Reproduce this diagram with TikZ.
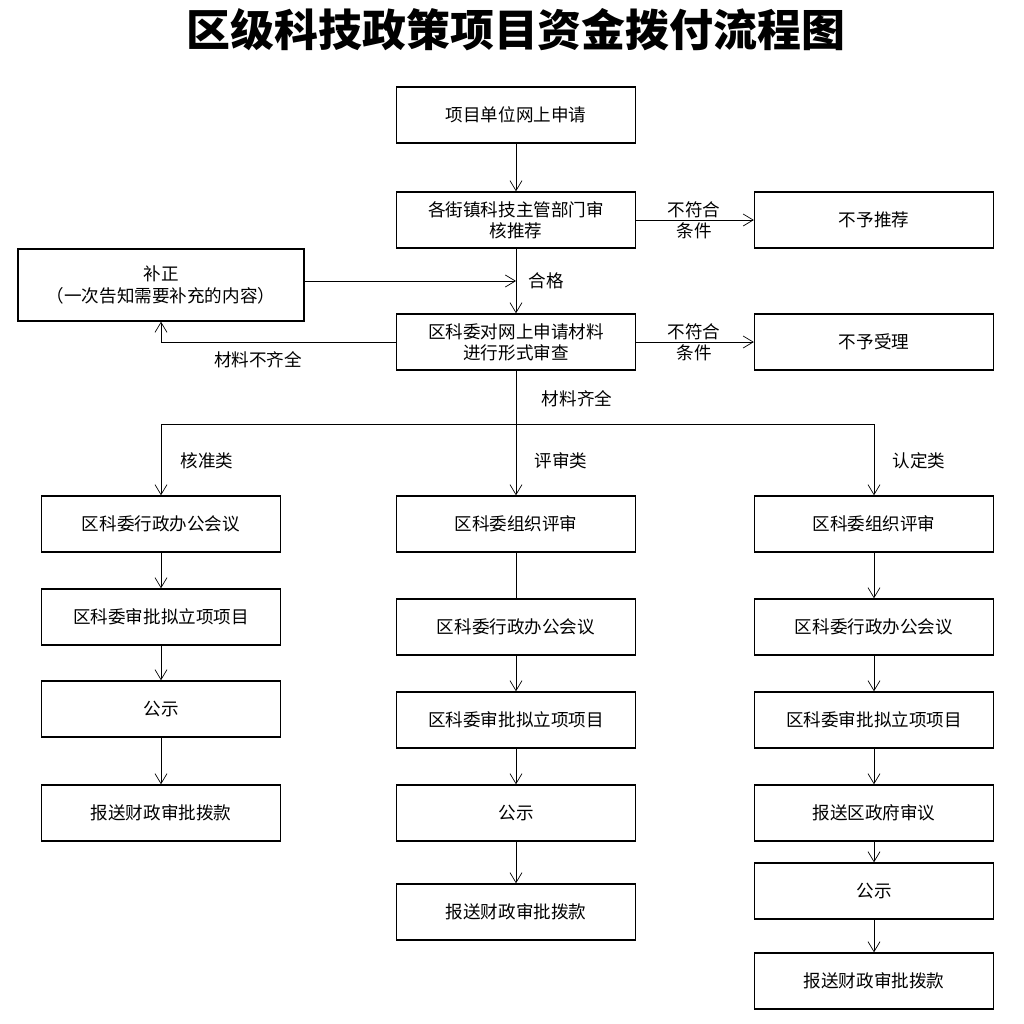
\documentclass[tikz,border=0pt]{standalone}
\usepackage{fontspec}
\setmainfont{Noto Sans CJK SC}
\usetikzlibrary{arrows.meta}
\tikzset{
  box/.style={draw, thick, minimum width=4.78cm, minimum height=1.12cm, align=center, inner sep=1pt, font=\fontsize{10}{12}\selectfont},
  lbl/.style={align=center, font=\fontsize{10}{12}\selectfont},
  arr/.style={-{Straight Barb[length=2mm,width=2.4mm]}},
}
\begin{document}
\begin{tikzpicture}[x=0.02cm, y=-0.02cm, thin]
  \useasboundingbox (0,0) rectangle (1024,1024);
  \node[font=\fontsize{25}{28}\selectfont\bfseries] (title) at (516,30) {区级科技政策项目资金拨付流程图};

  \node[box] (apply) at (516,115) {项目单位网上申请};
  \node[box] (street) at (516,220) {各街镇科技主管部门审\\核推荐};
  \node[box] (noRec) at (874,220) {不予推荐};
  \node[box, minimum width=5.72cm, minimum height=1.44cm] (fix) at (161,285) {补正\\（一次告知需要补充的内容）};
  \node[box] (check) at (516,342) {区科委对网上申请材料\\进行形式审查};
  \node[box] (noAcc) at (874,342) {不予受理};

  % left column
  \node[box] (a1) at (161,524) {区科委行政办公会议};
  \node[box] (a2) at (161,617) {区科委审批拟立项项目};
  \node[box] (a3) at (161,709) {公示};
  \node[box] (a4) at (161,813) {报送财政审批拨款};
  % middle column
  \node[box] (b1) at (516,524) {区科委组织评审};
  \node[box] (b2) at (516,627) {区科委行政办公会议};
  \node[box] (b3) at (516,720) {区科委审批拟立项项目};
  \node[box] (b4) at (516,813) {公示};
  \node[box] (b5) at (516,912) {报送财政审批拨款};
  % right column
  \node[box] (c1) at (874,524) {区科委组织评审};
  \node[box] (c2) at (874,627) {区科委行政办公会议};
  \node[box] (c3) at (874,720) {区科委审批拟立项项目};
  \node[box] (c4) at (874,813) {报送区政府审议};
  \node[box] (c5) at (874,891) {公示};
  \node[box] (c6) at (874,981) {报送财政审批拨款};

  \coordinate (join) at (516,281);
  \coordinate (split) at (516,424);

  \draw[arr] (apply) -- (street);
  \draw[arr] (street) -- (check);
  \draw[arr] (fix.east |- join) -- (join);
  \draw[arr] (check.west) -| (fix.south);
  \draw[arr] (street) -- (noRec);
  \draw[arr] (check) -- (noAcc);
  \draw (check) -- (split);
  \draw[arr] (split) -| (a1.north);
  \draw[arr] (split) -- (b1);
  \draw[arr] (split) -| (c1.north);

  \node[lbl] at (546,281) {合格};
  \node[lbl] at (694,220) {不符合\\条件};
  \node[lbl] at (694,342) {不符合\\条件};
  \node[lbl] at (258,360) {材料不齐全};
  \node[lbl] at (577,399) {材料齐全};
  \node[lbl] at (207,461) {核准类};
  \node[lbl] at (561,461) {评审类};
  \node[lbl] at (919,461) {认定类};

  \foreach \s/\t in {a1/a2,a2/a3,a3/a4,b2/b3,b3/b4,b4/b5,c1/c2,c2/c3,c3/c4,c4/c5,c5/c6}
    \draw[arr] (\s) -- (\t);
  \draw (b1) -- (b2);
\end{tikzpicture}
\end{document}
